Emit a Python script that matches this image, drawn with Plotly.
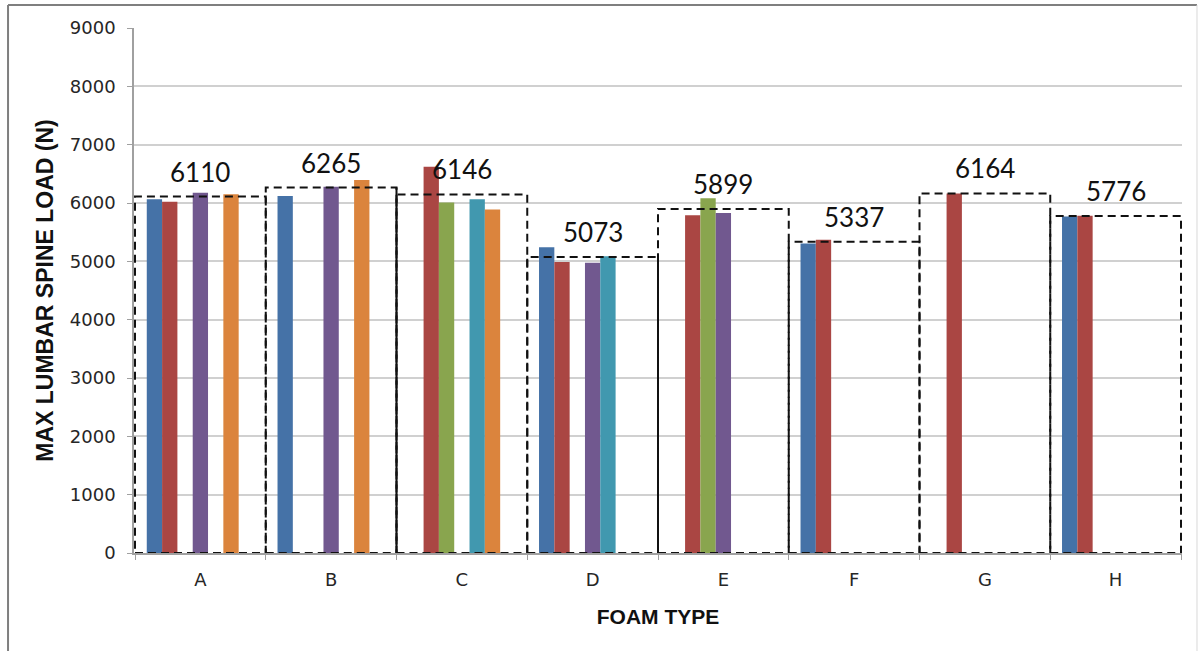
import plotly.graph_objects as go

categories = ["A", "B", "C", "D", "E", "F", "G", "H"]
series_names = ["S1", "S2", "S3", "S4", "S5", "S6", "S7"]
s1 = [6064, 6120, None, 5240, None, 5305, None, 5770]
s2 = [6023, None, 6620, 4990, 5790, 5369, 6164, 5782]
s3 = [None, None, 6010, None, 6080, None, None, None]
s4 = [6177, 6280, None, 4975, 5827, None, None, None]
s5 = [None, None, 6065, 5087, None, None, None, None]
s6 = [6149, 6395, 5890, None, None, None, None, None]
s7 = [None, None, None, None, None, None, None, None]
averages = [6110, 6265, 6146, 5073, 5899, 5337, 6164, 5776]
colors = ["#4572A7", "#AA4643", "#89A54E", "#71588F", "#4198AF", "#DB843D", "#A47D7C"]

fig = go.Figure()
for name, vals, col in zip(series_names, [s1, s2, s3, s4, s5, s6, s7], colors):
    fig.add_trace(go.Bar(x=categories, y=vals, name=name, marker_color=col,
                         marker_line_width=0))

shapes = []
annotations = []
for i, avg in enumerate(averages):
    shapes.append(dict(type="rect", xref="x", yref="y", x0=i - 0.5, x1=i + 0.5,
                       y0=0, y1=avg, layer="above",
                       line=dict(color="#111111", width=2, dash="8px,5px")))
    annotations.append(dict(x=categories[i], y=avg, xref="x", yref="y",
                            text=str(avg), showarrow=False, yanchor="middle",
                            yshift=25, font=dict(family="Lato", size=26, color="#111111")))
# solid right edge of box B
shapes.append(dict(type="line", xref="x", yref="y", x0=1.5, x1=1.5, y0=0, y1=averages[1],
                   layer="above", line=dict(color="#111111", width=2)))
# outer frame
shapes.append(dict(type="line", xref="paper", yref="paper", x0=-0.1202, x1=1.0143,
                   y0=1.0438, y1=1.0438, line=dict(color="#7f7f7f", width=2)))
shapes.append(dict(type="line", xref="paper", yref="paper", x0=-0.1202, x1=-0.1202,
                   y0=1.0438, y1=-0.25, line=dict(color="#7f7f7f", width=2)))
shapes.append(dict(type="line", xref="paper", yref="paper", x0=1.0143, x1=1.0143,
                   y0=1.0438, y1=-0.25, line=dict(color="#d9d9d9", width=1)))

fig.update_layout(
    width=1199, height=651,
    margin=dict(l=134, r=17, t=28, b=98),
    paper_bgcolor="white", plot_bgcolor="white",
    barmode="group", bargap=0.18, bargroupgap=0,
    showlegend=False,
    shapes=shapes, annotations=annotations,
    font=dict(family="DejaVu Sans", size=18, color="#262626"),
)
fig.update_yaxes(range=[0, 9000], dtick=1000, showgrid=True, gridcolor="#d0d0d0",
                 gridwidth=1.5, showline=True, linecolor="#a0a0a0", linewidth=1.5,
                 ticks="outside", ticklen=5, tickcolor="#a0a0a0",
                 tickfont=dict(size=18), ticklabelstandoff=8, zeroline=False,
                 title=dict(text="<b>MAX LUMBAR SPINE LOAD (N)</b>", standoff=10,
                            font=dict(family="Liberation Sans", size=23, color="#111111")))
fig.update_xaxes(showline=True, linecolor="#a0a0a0", linewidth=1.5,
                 ticks="outside", ticklen=5, tickcolor="#a0a0a0", tickson="boundaries",
                 tickfont=dict(size=18), ticklabelstandoff=10,
                 title=dict(text="<b>FOAM TYPE</b>", standoff=20,
                            font=dict(family="Liberation Sans", size=21, color="#111111")))

fig.write_html("out.html")
